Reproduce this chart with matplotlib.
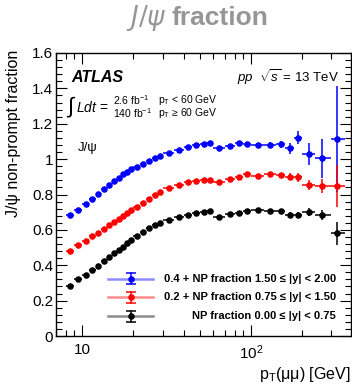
import numpy as np
import matplotlib
matplotlib.use('Agg')
import matplotlib.pyplot as plt
from matplotlib.ticker import MultipleLocator, FixedLocator, LogLocator, NullFormatter, FuncFormatter

plt.rcParams['font.family'] = ['Liberation Sans', 'DejaVu Sans']
plt.rcParams['mathtext.fontset'] = 'custom'
plt.rcParams['mathtext.rm'] = 'Liberation Sans'
plt.rcParams['mathtext.it'] = 'Liberation Sans:italic'
plt.rcParams['mathtext.bf'] = 'Liberation Sans:bold'

# pT bins [GeV]
bin_lo = [8, 9, 10, 11, 12, 13, 14, 15, 16, 17, 18, 19, 20, 22, 24, 26, 28, 30, 35, 40, 45, 50, 55,
          60, 70, 80, 90, 100, 120, 140, 160, 180, 200, 240, 300]
bin_hi = [9, 10, 11, 12, 13, 14, 15, 16, 17, 18, 19, 20, 22, 24, 26, 28, 30, 35, 40, 45, 50, 55, 60,
          70, 80, 90, 100, 120, 140, 160, 180, 200, 240, 300, 360]
pt_mean = [8.5, 9.5, 10.5, 11.5, 12.5, 13.5, 14.5, 15.5, 16.5, 17.5, 18.5, 19.5, 21, 23, 25, 27, 29,
           32.5, 37.5, 42.5, 47.5, 52.5, 57.5, 65, 75, 85, 95, 110, 130, 150, 170, 190, 220, 265, 322]

# non-prompt fraction, 0.00 <= |y| < 0.75
np_y0 = [0.284, 0.320, 0.345, 0.375, 0.397, 0.424, 0.448, 0.471, 0.488, 0.505, 0.523, 0.543, 0.565,
         0.588, 0.612, 0.627, 0.641, 0.655, 0.671, 0.685, 0.694, 0.700, 0.707, 0.674, 0.688, 0.697,
         0.707, 0.712, 0.705, 0.708, 0.686, 0.684, 0.703, 0.684, 0.580]
err_y0 = [0.004] * 23 + [0.007, 0.007, 0.008, 0.008, 0.009, 0.010, 0.012, 0.015, 0.018, 0.022,
                         0.030, 0.065]
# 0.75 <= |y| < 1.50
np_y1 = [0.283, 0.312, 0.339, 0.363, 0.385, 0.406, 0.427, 0.446, 0.463, 0.480, 0.495, 0.510, 0.530,
         0.552, 0.575, 0.595, 0.615, 0.638, 0.655, 0.669, 0.679, 0.682, 0.684, 0.672, 0.687, 0.700,
         0.716, 0.706, 0.714, 0.710, 0.700, 0.697, 0.654, 0.648, 0.648]
err_y1 = [0.004] * 23 + [0.008, 0.008, 0.009, 0.010, 0.010, 0.012, 0.014, 0.020, 0.025, 0.030,
                         0.040, 0.120]
# 1.50 <= |y| < 2.00
np_y2 = [0.282, 0.314, 0.345, 0.375, 0.403, 0.430, 0.453, 0.476, 0.496, 0.515, 0.530, 0.542, 0.558,
         0.573, 0.589, 0.605, 0.618, 0.634, 0.651, 0.670, 0.682, 0.685, 0.689, 0.664, 0.675, 0.693,
         0.685, 0.678, 0.678, 0.685, 0.661, 0.721, 0.629, 0.604, 0.712]
err_y2 = [0.005] * 23 + [0.010, 0.010, 0.012, 0.012, 0.014, 0.016, 0.020, 0.030, 0.038, 0.064,
                         0.108, 0.300]

series = [
    (np_y2, err_y2, 0.4, 'blue', '0.4 + NP fraction 1.50 ≤ |y| < 2.00'),
    (np_y1, err_y1, 0.2, 'red', '0.2 + NP fraction 0.75 ≤ |y| < 1.50'),
    (np_y0, err_y0, 0.0, 'black', 'NP fraction 0.00 ≤ |y| < 0.75'),
]

W, H = 352, 386
fig = plt.figure(figsize=(W / 100, H / 100), dpi=100)
ax = fig.add_axes([56 / W, 1 - 336 / H, (351 - 56) / W, (336 - 53) / H])

x = np.array(pt_mean)
xerr = [x - np.array(bin_lo), np.array(bin_hi) - x]
for vals, errs, off, col, lab in series:
    ax.errorbar(x, np.array(vals) + off, yerr=errs, xerr=xerr, fmt='o', color=col,
                ms=3.7, elinewidth=1.1, capsize=0, zorder=3)

ax.set_xscale('log')
ax.set_xlim(7, 392)
ax.set_ylim(0, 1.6)

ax.xaxis.set_major_locator(FixedLocator([10, 100]))
ax.xaxis.set_major_formatter(FuncFormatter(lambda v, p: '10' if v < 50 else r'10$^{2}$'))
ax.xaxis.set_minor_locator(LogLocator(base=10, subs=np.arange(2, 10)))
ax.xaxis.set_minor_formatter(NullFormatter())
ax.yaxis.set_major_locator(MultipleLocator(0.2))
ax.yaxis.set_minor_locator(MultipleLocator(0.04))
ax.yaxis.set_major_formatter(FuncFormatter(lambda v, p: ('%.1f' % v).rstrip('0').rstrip('.') if v else '0'))

ax.tick_params(which='both', direction='in', top=True, right=True, width=0.8, labelsize=11)
ax.tick_params(which='major', length=8)
ax.tick_params(which='minor', length=4)
ax.tick_params(axis='x', pad=5)
ax.tick_params(axis='y', pad=2)
for s in ax.spines.values():
    s.set_linewidth(1.0)

def fx(px):
    return px / W

def fy(py):
    return 1 - py / H

# title
fig.text(fx(167), fy(25), r'$J/\psi$', color='#969696', fontsize=19, ha='right', va='baseline',
         math_fontfamily='dejavusans')
fig.text(fx(172), fy(25), 'fraction', color='#969696', fontsize=19, fontweight='bold',
         ha='left', va='baseline')

# axis labels
fig.text(fx(14), fy(50), 'J/ψ non-prompt fraction', rotation=90, ha='center', va='top', fontsize=11.5)
fig.text(fx(351), fy(379), r'p$_{\rm T}$(μμ) [GeV]', ha='right', va='baseline', fontsize=11.5)

# annotations
fig.text(fx(71), fy(82), 'ATLAS', fontsize=11.5, fontweight='bold', fontstyle='italic', va='baseline')
fig.text(fx(67), fy(107), '∫', fontsize=16, va='center')
fig.text(fx(76), fy(107), r'$Ldt$ =', fontsize=10, va='center')
fig.text(fx(113), fy(100), r'2.6 fb$^{-1}$', fontsize=7.5, va='center')
fig.text(fx(113), fy(113), r'140 fb$^{-1}$', fontsize=7.5, va='center')
fig.text(fx(158), fy(100), r'p$_{\rm T}$ < 60 GeV', fontsize=7.5, va='center')
fig.text(fx(158), fy(113), r'p$_{\rm T}$ ≥ 60 GeV', fontsize=7.5, va='center')
fig.text(fx(237), fy(82), r'$pp$  $\sqrt{s}$ = 13 TeV', fontsize=9.5, va='baseline')
fig.text(fx(78), fy(148), 'J/ψ', fontsize=9.5, va='center')

# legend
leg_rows = [278.5, 297, 316]
for (vals, errs, off, col, lab), ry in zip(series, leg_rows):
    yy = fy(ry)
    fig.lines.append(plt.Line2D([fx(108), fx(153)], [yy, yy], transform=fig.transFigure,
                                color=col, lw=1.8, alpha=0.45))
    fig.lines.append(plt.Line2D([fx(131), fx(131)], [yy - 5.5 / H, yy + 5.5 / H],
                                transform=fig.transFigure, color=col, lw=1.1))
    fig.lines.append(plt.Line2D([fx(131), fx(131)], [yy - 5.5 / H, yy + 5.5 / H],
                                transform=fig.transFigure, color=col, lw=0, marker='_', ms=7,
                                mew=1.1))
    fig.lines.append(plt.Line2D([fx(131)], [yy], transform=fig.transFigure, color=col,
                                marker='o', ms=3.7, lw=0))
    fig.text(fx(336), yy, lab, ha='right', va='center', fontsize=8, fontweight='bold')

fig.savefig('out.png', dpi=100)
